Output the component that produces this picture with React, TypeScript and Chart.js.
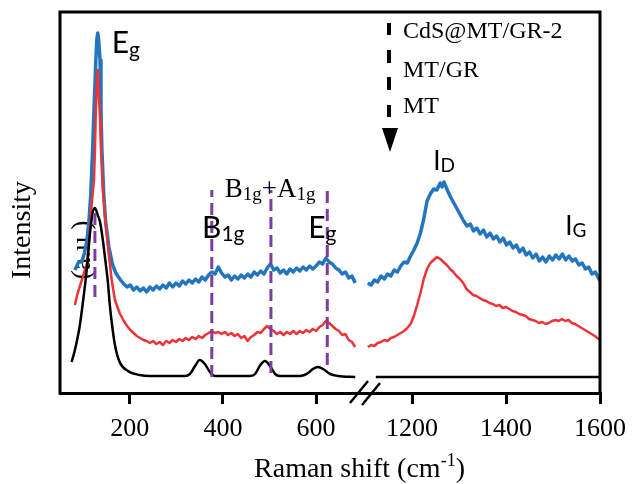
import React, { useEffect, useRef } from "react";
import { Chart, registerables } from "chart.js";

Chart.register(...registerables);

const SERIF = '"Liberation Serif", "Times New Roman", serif';
const SANS = 'Lato, "Open Sans", sans-serif';

// Axis ranges / ticks (broken x axis)
const LEFT_RANGE = [50, 705];
const RIGHT_RANGE = [1100, 1600];
const LEFT_TICKS = [200, 400, 600];
const RIGHT_TICKS = [1200, 1400, 1600];
const Y_RANGE = [0, 381];

const SERIES_NAMES = ["CdS@MT/GR-2", "MT/GR", "MT"];

// CdS@MT/GR-2 (blue)
const CDS_LEFT_X = [82, 90, 97, 103, 108, 112, 116, 120, 123, 127, 129, 131, 133, 136, 138, 140, 144, 148, 155, 163, 170, 174,
  180, 187, 194, 201, 208, 215, 222, 229, 236, 243, 250, 257, 264, 271, 278, 285, 292, 299, 306, 313, 320, 327, 334, 341, 348,
  355, 362, 369, 376, 383, 390, 397, 404, 411, 418, 425, 432, 439, 446, 453, 460, 467, 474, 481, 488, 495, 502, 509, 516, 523,
  530, 537, 544, 551, 558, 565, 572, 579, 586, 593, 600, 607, 614, 621, 628, 635, 642, 649, 656, 663, 670, 677, 684];
const CDS_LEFT_Y = [123, 131, 131, 141, 153, 171, 198, 243, 283, 333, 353, 360, 353, 333, 283, 243, 198, 171, 146, 128, 120, 117,
  113, 109, 106, 108, 103, 106, 102, 105, 101, 106, 103, 107, 104, 108, 105, 110, 106, 110, 107, 112, 109, 113, 110, 114, 111,
  116, 113, 118, 121, 119, 126, 120, 116, 118, 113, 117, 114, 118, 115, 119, 116, 121, 118, 122, 119, 125, 129, 123, 125, 120,
  123, 119, 124, 121, 125, 122, 126, 123, 127, 124, 127, 131, 129, 135, 131, 129, 125, 123, 119, 121, 115, 117, 110];
const CDS_RIGHT_X = [1106, 1113, 1120, 1127, 1134, 1141, 1148, 1155, 1162, 1169, 1176, 1183, 1190, 1197, 1204, 1211, 1218, 1225,
  1232, 1239, 1246, 1253, 1260, 1264, 1268, 1275, 1282, 1289, 1296, 1303, 1310, 1317, 1324, 1331, 1338, 1345, 1352, 1359, 1366,
  1373, 1380, 1387, 1394, 1401, 1408, 1415, 1422, 1429, 1436, 1443, 1450, 1457, 1464, 1471, 1478, 1485, 1492, 1499, 1506, 1513,
  1520, 1527, 1534, 1541, 1548, 1555, 1562, 1569, 1576, 1583, 1590, 1600];
const CDS_RIGHT_Y = [110, 108, 113, 111, 117, 114, 119, 117, 123, 121, 127, 131, 130, 137, 143, 150, 160, 174, 192, 199,
  204, 203, 210, 206, 211, 203, 196, 190, 184, 178, 172, 167, 169, 162, 165, 159, 163, 156, 160, 154, 157, 151, 155, 148, 151,
  145, 148, 141, 145, 138, 141, 135, 139, 132, 136, 131, 137, 133, 138, 134, 139, 133, 137, 132, 134, 128, 130, 124, 126, 119,
  121, 112];

// MT/GR (red)
const MTGR_LEFT_X = [82, 88, 99, 108, 114, 118, 123, 125, 127, 129, 131, 133, 136, 138, 142, 146, 153, 161, 168, 178,
  187, 194, 201, 208, 215, 222, 229, 236, 243, 250, 257, 264, 271, 278, 285, 292, 299, 306, 313, 320, 327, 334, 341, 348, 355,
  362, 369, 376, 383, 390, 397, 404, 411, 418, 425, 432, 439, 446, 453, 460, 467, 474, 481, 488, 495, 502, 509, 516, 523, 530,
  537, 544, 551, 558, 565, 572, 579, 586, 593, 600, 607, 614, 621, 628, 635, 642, 649, 656, 663, 670, 677, 684];
const MTGR_LEFT_Y = [88, 100, 116, 130, 161, 188, 213, 243, 283, 308, 323, 303, 273, 243, 203, 180, 146, 113, 93, 80,
  72, 67, 63, 60, 57, 55, 53, 52, 50, 52, 49, 51, 48, 52, 50, 53, 51, 54, 52, 55, 53, 56, 54, 57, 55,
  58, 60, 62, 60, 61, 59, 61, 58, 60, 57, 59, 55, 57, 52, 56, 58, 61, 60, 64, 67, 64, 62, 59, 61, 58,
  61, 59, 62, 59, 62, 60, 63, 61, 64, 62, 66, 68, 72, 70, 67, 64, 62, 58, 59, 53, 51, 46];
const MTGR_RIGHT_X = [1106, 1113, 1120, 1127, 1134, 1141, 1148, 1155, 1162, 1169, 1176, 1183, 1190, 1197, 1204, 1211, 1218,
  1225, 1232, 1239, 1246, 1253, 1260, 1267, 1274, 1281, 1288, 1295, 1302, 1309, 1316, 1323, 1330, 1337, 1344, 1351, 1358, 1365,
  1372, 1379, 1386, 1393, 1400, 1407, 1414, 1421, 1428, 1435, 1442, 1449, 1456, 1463, 1470, 1477, 1484, 1491, 1498, 1505, 1512,
  1519, 1526, 1533, 1540, 1547, 1554, 1561, 1568, 1575, 1582, 1589, 1600];
const MTGR_RIGHT_Y = [46, 48, 47, 50, 51, 53, 52, 55, 56, 58, 60, 62, 65, 69, 77, 88, 100, 114, 124, 130,
  133, 136, 134, 131, 128, 124, 121, 117, 114, 110, 104, 101, 98, 97, 95, 93, 92, 90, 89, 87,
  88, 85, 86, 84, 82, 81, 79, 78, 77, 74, 73, 72, 70, 71, 69, 70, 72, 73, 72, 74,
  72, 73, 70, 69, 67, 65, 63, 61, 59, 57, 53];

// MT (black)
const MT_LEFT_X = [75, 82, 92, 99, 108, 114, 120, 125, 131, 136, 142, 146, 153, 157, 161, 168, 178, 196, 221, 243,
  318, 329, 340, 350, 361, 372, 383, 458, 469, 479, 490, 501, 512, 522, 565, 583, 593, 604, 615, 630, 647, 684];
const MT_LEFT_Y = [31, 43, 66, 90, 126, 158, 180, 185, 178, 171, 153, 138, 110, 88, 71, 48, 31, 22, 18, 17,
  17, 19, 27, 33, 29, 21, 17, 17, 19, 27, 32, 27, 19, 17, 17, 20, 24, 26, 24, 19, 17, 16];
const MT_RIGHT_X = [1123, 1600];
const MT_RIGHT_Y = [16, 16];

// Vertical dashed peak markers (left segment)
const PEAK_X = [125, 376, 503, 624];
const PEAK_BOTTOM = [96, 16, 20, 28];
const PEAK_TOP = [180, 203, 203, 203];

const BLUE = "#2376bd";
const RED = "#ec3338";
const BLACK = "#000000";
const PURPLE = "#7b3fa0";

const pts = (xs: number[], ys: number[]) => xs.map((x, i) => ({ x, y: ys[i] }));

function subText(ctx: CanvasRenderingContext2D, x: number, y: number, parts: [string, number, number][], family: string) {
  let cx = x;
  for (const [t, size, dy] of parts) {
    ctx.font = `${size}px ${family}`;
    ctx.fillText(t, cx, y + dy);
    cx += ctx.measureText(t).width;
  }
}

const decorPlugin = {
  id: "decor",
  beforeDatasetsDraw(chart: any) {
    const ctx = chart.ctx as CanvasRenderingContext2D;
    ctx.save();
    ctx.fillStyle = "#000";
    ctx.font = `28px ${SERIF}`;
    ctx.translate(83, 250);
    ctx.rotate(-Math.PI / 2);
    ctx.textAlign = "center";
    ctx.textBaseline = "middle";
    ctx.fillText("(a.u.)", 0, 0);
    ctx.restore();
  },
  afterDraw(chart: any) {
    const ctx = chart.ctx as CanvasRenderingContext2D;
    const ca = chart.chartArea;
    const xL = chart.scales.xL;
    const xR = chart.scales.xR;
    const y = chart.scales.y;
    ctx.save();
    // frame
    ctx.strokeStyle = "#000";
    ctx.lineWidth = 3;
    ctx.lineCap = "square";
    ctx.beginPath();
    ctx.moveTo(ca.left, ca.bottom);
    ctx.lineTo(ca.left, ca.top);
    ctx.lineTo(ca.right, ca.top);
    ctx.lineTo(ca.right, ca.bottom);
    ctx.stroke();
    // axis break marks
    const bx = xL.right;
    ctx.lineCap = "butt";
    ctx.lineWidth = 2.5;
    ctx.beginPath();
    ctx.moveTo(bx - 15, ca.bottom + 10);
    ctx.lineTo(bx + 3, ca.bottom - 12);
    ctx.moveTo(bx - 3, ca.bottom + 12);
    ctx.lineTo(bx + 15, ca.bottom - 10);
    ctx.stroke();

    // legend: dashed arrow + names
    ctx.lineWidth = 4;
    ctx.beginPath();
    [[23, 35], [50, 63], [77, 90], [105, 117]].forEach(([a, b]) => {
      ctx.moveTo(389, a);
      ctx.lineTo(389, b);
    });
    ctx.stroke();
    ctx.fillStyle = "#000";
    ctx.beginPath();
    ctx.moveTo(382, 128);
    ctx.lineTo(398, 128);
    ctx.lineTo(390, 152);
    ctx.closePath();
    ctx.fill();
    ctx.font = `24px ${SERIF}`;
    ctx.textAlign = "left";
    ctx.textBaseline = "alphabetic";
    ctx.fillText(SERIES_NAMES[0], 403, 38);
    ctx.fillText(SERIES_NAMES[1], 403, 77);
    ctx.fillText(SERIES_NAMES[2], 403, 113);

    // peak labels
    const L = (v: number) => xL.getPixelForValue(v);
    const R = (v: number) => xR.getPixelForValue(v);
    const Y = (v: number) => y.getPixelForValue(v);
    subText(ctx, L(161), Y(340), [["E", 30, 0], ["g", 21, 4]], SANS);
    subText(ctx, L(355), Y(155), [["B", 30, 0], ["1g", 21, 3]], SANS);
    subText(ctx, L(583), Y(155), [["E", 30, 0], ["g", 21, 3]], SANS);
    subText(ctx, L(404), Y(196), [["B", 27, 0], ["1g", 19, 3], ["+", 27, 0], ["A", 27, 0], ["1g", 19, 3]], SERIF);
    subText(ctx, R(1245), Y(223), [["I", 26, 0], ["D", 19, 2]], SANS);
    subText(ctx, R(1526), Y(158), [["I", 26, 0], ["G", 19, 2]], SANS);

    // y title
    ctx.save();
    ctx.font = `28px ${SERIF}`;
    ctx.translate(23, 230);
    ctx.rotate(-Math.PI / 2);
    ctx.textAlign = "center";
    ctx.textBaseline = "middle";
    ctx.fillText("Intensity", 0, 0);
    ctx.restore();

    // x title
    ctx.font = `28px ${SERIF}`;
    const t1 = "Raman shift (cm";
    const w1 = ctx.measureText(t1).width;
    ctx.font = `18px ${SERIF}`;
    const w2 = ctx.measureText("-1").width;
    ctx.font = `28px ${SERIF}`;
    const w3 = ctx.measureText(")").width;
    const x0 = 359.5 - (w1 + w2 + w3) / 2;
    ctx.fillText(t1, x0, 477);
    ctx.font = `18px ${SERIF}`;
    ctx.fillText("-1", x0 + w1, 466);
    ctx.font = `28px ${SERIF}`;
    ctx.fillText(")", x0 + w1 + w2, 477);
    ctx.restore();
  },
};

export default function App() {
  const ref = useRef<HTMLCanvasElement | null>(null);
  useEffect(() => {
    const canvas = ref.current;
    if (!canvas) return;
    const line = (label: string, xs: number[], ys: number[], axis: string, color: string, width: number, smooth: boolean) => ({
      label,
      data: pts(xs, ys),
      xAxisID: axis,
      yAxisID: "y",
      borderColor: color,
      backgroundColor: color,
      borderWidth: width,
      borderJoinStyle: "round" as const,
      pointRadius: 0,
      fill: false,
      tension: 0,
      ...(smooth ? { cubicInterpolationMode: "monotone" as const } : {}),
    });
    const peakSets = PEAK_X.map((px, i) => ({
      label: "peak" + i,
      data: [{ x: px, y: PEAK_BOTTOM[i] }, { x: px, y: PEAK_TOP[i] }],
      xAxisID: "xL",
      yAxisID: "y",
      borderColor: PURPLE,
      borderWidth: 3,
      borderDash: [12, 6],
      pointRadius: 0,
      fill: false,
    }));
    const xCommon = {
      type: "linear" as const,
      position: "bottom" as const,
      stack: "xstack",
      afterFit: (s: any) => {
        s.height = 91;
      },
      grid: { drawOnChartArea: false, drawTicks: true, tickLength: 11, color: "#000", lineWidth: 3 },
      border: { display: true, color: "#000", width: 3 },
      ticks: {
        font: { family: SERIF, size: 26 },
        color: "#000",
        padding: 10,
        maxRotation: 0,
        autoSkip: false,
        callback: (v: any) => String(v),
      },
    };
    const chart = new Chart(canvas, {
      type: "line",
      data: {
        datasets: [
          ...peakSets,
          line(SERIES_NAMES[2], MT_LEFT_X, MT_LEFT_Y, "xL", BLACK, 2.5, true),
          line(SERIES_NAMES[2], MT_RIGHT_X, MT_RIGHT_Y, "xR", BLACK, 2.5, true),
          line(SERIES_NAMES[1], MTGR_LEFT_X, MTGR_LEFT_Y, "xL", RED, 2.5, false),
          line(SERIES_NAMES[1], MTGR_RIGHT_X, MTGR_RIGHT_Y, "xR", RED, 2.5, false),
          line(SERIES_NAMES[0], CDS_LEFT_X, CDS_LEFT_Y, "xL", BLUE, 3.5, false),
          line(SERIES_NAMES[0], CDS_RIGHT_X, CDS_RIGHT_Y, "xR", BLUE, 3.5, false),
        ],
      },
      options: {
        animation: false,
        responsive: false,
        devicePixelRatio: 1,
        layout: { padding: { left: 60, right: 36, top: 12, bottom: 0 } },
        plugins: { legend: { display: false }, tooltip: { enabled: false } },
        scales: {
          xL: {
            ...xCommon,
            stackWeight: 305,
            min: LEFT_RANGE[0],
            max: LEFT_RANGE[1],
            afterBuildTicks: (s: any) => {
              s.ticks = LEFT_TICKS.map((v) => ({ value: v }));
            },
          },
          xR: {
            ...xCommon,
            stackWeight: 235,
            min: RIGHT_RANGE[0],
            max: RIGHT_RANGE[1],
            afterBuildTicks: (s: any) => {
              s.ticks = RIGHT_TICKS.map((v) => ({ value: v }));
            },
          },
          y: { type: "linear", display: false, min: Y_RANGE[0], max: Y_RANGE[1] },
        },
      } as any,
      plugins: [decorPlugin],
    });
    return () => chart.destroy();
  }, []);
  return (
    <canvas
      ref={ref}
      width={636}
      height={484}
      style={{ position: "fixed", left: 0, top: 0, width: 636, height: 484 }}
    />
  );
}
